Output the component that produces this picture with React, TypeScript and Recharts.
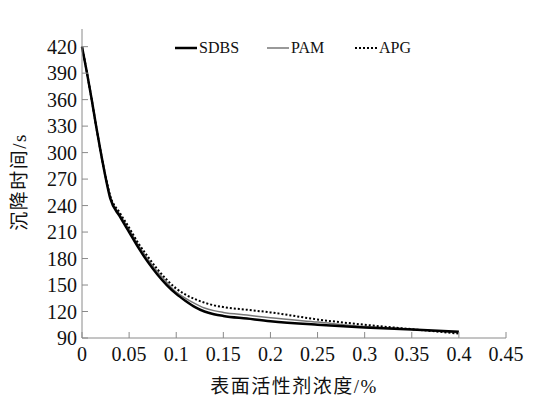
import { LineChart, Line, XAxis, YAxis, Legend } from "recharts"

const conc = [0, 0.005, 0.01, 0.015, 0.02, 0.025, 0.03, 0.04, 0.05, 0.06, 0.07, 0.08, 0.09, 0.1, 0.11, 0.12, 0.13, 0.14, 0.15, 0.175, 0.2, 0.25, 0.3, 0.35, 0.4]
const sdbs = [420, 392, 362, 330, 300, 272, 248, 228, 210, 192, 176, 162, 150, 140, 132, 125, 120, 117, 115, 112, 109, 105, 102, 99.5, 97]
const pam = [420, 392, 362, 330, 300, 273, 250, 230, 213, 195, 179, 165, 153, 142, 135, 129, 124, 121, 119, 116, 113, 108, 103, 100, 96]
const apg = [420, 392, 362, 330, 300, 273, 251, 232, 215, 197, 182, 168, 156, 146, 139, 134, 130, 127, 125, 122, 119, 111, 105, 100, 95]

const xTicks = [0, 0.05, 0.1, 0.15, 0.2, 0.25, 0.3, 0.35, 0.4, 0.45]
const yTicks = [90, 120, 150, 180, 210, 240, 270, 300, 330, 360, 390, 420]

const data = conc.map((c, i) => ({ c, SDBS: sdbs[i], PAM: pam[i], APG: apg[i] }))

const font = '"Liberation Serif", "Times New Roman", serif'
const cjkFont = '"Liberation Serif", "Noto Sans CJK SC", serif'
const axisColor = "#8a8a8a"

const legendItems = [
  { name: "SDBS", stroke: "#000", width: 2.5, dash: undefined, left: 175 },
  { name: "PAM", stroke: "#777", width: 1.5, dash: undefined, left: 267 },
  { name: "APG", stroke: "#000", width: 2, dash: "2 2", left: 355 },
]

const renderLegend = () => (
  <div style={{ position: "relative", height: 20, fontFamily: font, fontSize: 16, color: "#111" }}>
    {legendItems.map((it) => (
      <div key={it.name} style={{ position: "absolute", left: it.left, top: 0, display: "flex", alignItems: "center" }}>
        <svg width={22} height={10}>
          <line x1={0} y1={5} x2={22} y2={5} stroke={it.stroke} strokeWidth={it.width} strokeDasharray={it.dash} />
        </svg>
        <span style={{ marginLeft: 2 }}>{it.name}</span>
      </div>
    ))}
  </div>
)

export default function App() {
  return (
    <div style={{ position: "fixed", left: 0, top: 0, background: "#fff" }}>
      <LineChart width={537} height={396} data={data} margin={{ top: 9, right: 31, bottom: 0, left: 0 }}>
        <XAxis
          dataKey="c"
          type="number"
          domain={[0, 0.45]}
          ticks={xTicks}
          stroke={axisColor}
          tickSize={-6}
          tickMargin={15}
          height={58}
          tick={{ fill: "#111", fontSize: 20, fontFamily: font }}
          label={{ value: "表面活性剂浓度/%", position: "insideBottom", offset: 3, fill: "#111", fontSize: 19, fontFamily: cjkFont, letterSpacing: 1.5 }}
        />
        <YAxis
          type="number"
          domain={[90, 440]}
          ticks={yTicks}
          stroke={axisColor}
          tickSize={-6}
          tickMargin={11}
          width={82}
          interval={0}
          tick={{ fill: "#111", fontSize: 20, fontFamily: font }}
          label={() => (
            <text
              x={22}
              y={182}
              transform="rotate(-90 22 182)"
              textAnchor="middle"
              dominantBaseline="middle"
              fill="#111"
              fontSize={19}
              fontFamily={cjkFont}
              letterSpacing={1.5}
            >
              沉降时间/s
            </text>
          )}
        />
        <Legend verticalAlign="top" align="left" content={renderLegend} wrapperStyle={{ top: 39, left: 0, width: 537 }} />
        <Line type="monotone" dataKey="PAM" stroke="#777" strokeWidth={1.5} dot={false} isAnimationActive={false} />
        <Line type="monotone" dataKey="APG" stroke="#000" strokeWidth={2} strokeDasharray="2 2" dot={false} isAnimationActive={false} />
        <Line type="monotone" dataKey="SDBS" stroke="#000" strokeWidth={2.5} dot={false} isAnimationActive={false} />
      </LineChart>
    </div>
  )
}
